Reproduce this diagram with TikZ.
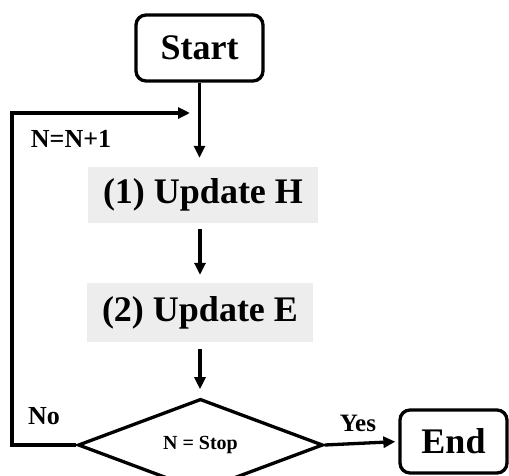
\documentclass[tikz,border=0pt]{standalone}
\usepackage{fontspec}
\setmainfont{Liberation Serif}
\usetikzlibrary{shapes.geometric,arrows.meta,calc}
\begin{document}
\begin{tikzpicture}[x=1pt,y=-1pt,
  lw/.style={line width=3.3pt},
  termbox/.style={draw,lw,rounded corners=10pt,inner sep=0pt,font=\fontsize{36}{40}\selectfont\bfseries},
  stepbox/.style={fill=gray!14,inner sep=0pt,font=\fontsize{36}{40}\selectfont\bfseries},
  decbox/.style={draw,lw,diamond,inner sep=0pt,minimum width=245pt,minimum height=84pt,font=\fontsize{20}{22}\selectfont\bfseries},
  lbl/.style={inner sep=0pt,font=\fontsize{26}{28}\selectfont\bfseries},
  arr/.style={lw,-{Triangle[length=12pt,width=11pt]}}
]
\useasboundingbox (0,0) rectangle (509,475);
\clip (0,0) rectangle (509,475);
\node[termbox,minimum width=127pt,minimum height=66pt] (start) at (199.5,48) {Start};
\node[stepbox,minimum width=230pt,minimum height=56pt] (upH) at (203,195) {(1) Update H};
\node[stepbox,minimum width=226pt,minimum height=59pt] (upE) at (200,312.5) {(2) Update E};
\node[decbox] (dia) at (200.5,445) {N = Stop};
\node[termbox,minimum width=107pt,minimum height=63pt] (end) at (453.5,441.5) {End};
\coordinate (lc) at (12,113);
\coordinate (join) at (200,113);
\node[lbl] (nn) at (71,139) {N=N+1};
\node[lbl] (no) at (44,416) {No};
\node[lbl,font=\fontsize{25}{27}\selectfont\bfseries] (yes) at (358,423) {Yes};
\draw[arr,shorten >=9pt] (start.south) -- (start.south |- upH.north);
\draw[arr,shorten <=6pt,shorten >=8pt] (upH.south -| upE.north) -- (upE.north);
\draw[arr,shorten <=7pt,shorten >=8pt] (upE.south) -- (upE.south |- dia.north);
\draw[arr,shorten >=3pt] (dia.east) -- (end.west);
\draw[arr,line join=miter,shorten >=10pt] (dia.west) -| (lc) -- (join);
\end{tikzpicture}
\end{document}
